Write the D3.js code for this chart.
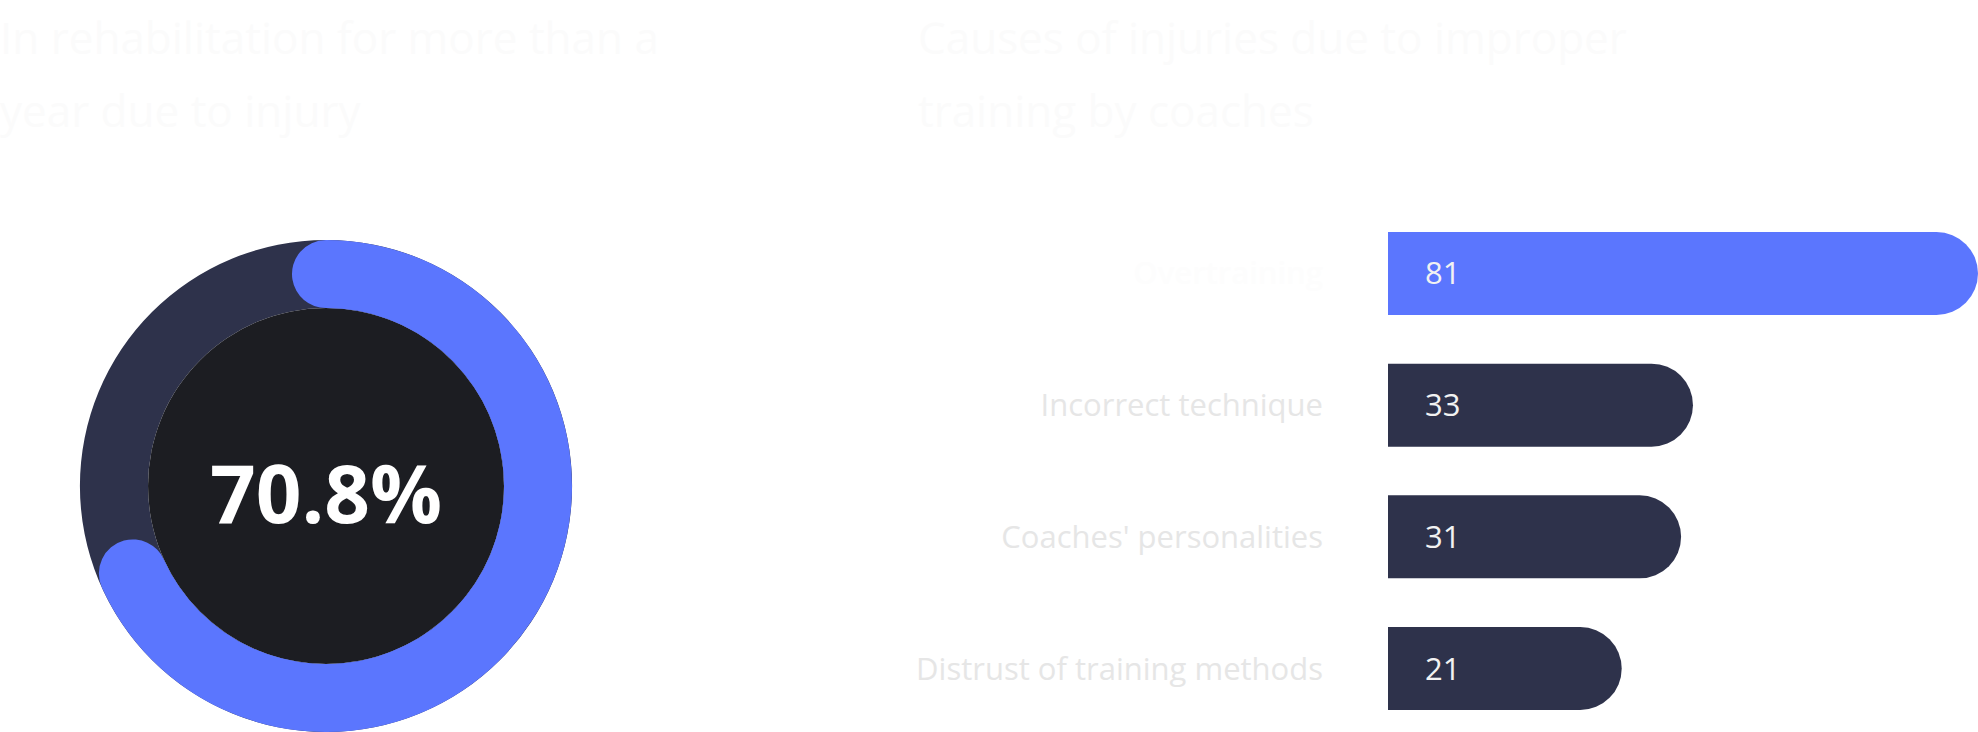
<!DOCTYPE html>
<html>
<head>
<meta charset="utf-8">
<script src="https://cdn.jsdelivr.net/npm/d3@7"></script>
<style>
  html, body { margin: 0; padding: 0; background: #ffffff; }
  svg { display: block; font-family: "Open Sans", "Noto Sans", sans-serif; }
</style>
</head>
<body>
<svg id="chart"></svg>
<script>
// Titles (two lines each)
const leftTitle = ["In rehabilitation for more than a", "year due to injury"];
const rightTitle = ["Causes of injuries due to improper", "training by coaches"];

// Donut value (percent)
const donutValue = 70.8;

// Bar chart data
const categories = ["Overtraining", "Incorrect technique", "Coaches' personalities", "Distrust of training methods"];
const values = [81, 33, 31, 21];

const width = 1978;
const height = 732;
const blue = "#5b76fe";
const navy = "#2e324b";
const ink = "#1c1d22";

const svg = d3.select("#chart")
  .attr("width", width)
  .attr("height", height);

// titles - nearly white on the white page, like the original
function drawTitle(lines, x) {
  const t = svg.append("text")
    .attr("x", x)
    .attr("fill", "#fbfbfb")
    .attr("font-size", 44);
  lines.forEach((line, i) => {
    t.append("tspan")
      .attr("x", x)
      .attr("y", 54 + i * 73)
      .text(line);
  });
}
drawTitle(leftTitle, 0);
drawTitle(rightTitle, 918);

// ---- donut ----
const cx = 326, cy = 486;
const rOuter = 246, rInner = 178;
const capR = (rOuter - rInner) / 2;
const capAngle = Math.asin(capR / ((rOuter + rInner) / 2));

const g = svg.append("g").attr("transform", `translate(${cx},${cy})`);

const ring = d3.arc().innerRadius(rInner).outerRadius(rOuter);

// background track
g.append("path")
  .attr("d", ring({ startAngle: 0, endAngle: 2 * Math.PI }))
  .attr("fill", navy);

g.append("circle")
  .attr("r", rInner)
  .attr("fill", ink);

const angle = d3.scaleLinear().domain([0, 100]).range([0, 2 * Math.PI]);

// value arc, round cap centred on 12 o'clock
g.append("path")
  .attr("d", ring.cornerRadius(capR)({ startAngle: -capAngle, endAngle: angle(donutValue) }))
  .attr("fill", blue);

g.append("text")
  .attr("text-anchor", "middle")
  .attr("y", 37)
  .attr("fill", "#ffffff")
  .attr("font-size", 80)
  .attr("font-weight", 700)
  .text(d3.format(".1f")(donutValue) + "%");

// ---- bars ----
const barLeft = 1388;
const y = d3.scaleBand()
  .domain(categories)
  .range([232, 710])
  .paddingInner(0.37)
  .paddingOuter(0);

const x = d3.scaleLinear()
  .domain([0, d3.max(values)])
  .range([109, width - barLeft]);

const bh = y.bandwidth();
const r = bh / 2;

function barPath(w) {
  const p = d3.path();
  p.moveTo(0, 0);
  p.lineTo(w - r, 0);
  p.arc(w - r, r, r, -Math.PI / 2, Math.PI / 2);
  p.lineTo(0, bh);
  p.closePath();
  return p.toString();
}

const rows = svg.append("g")
  .attr("transform", `translate(${barLeft},0)`)
  .selectAll("g")
  .data(categories.map((c, i) => ({ c, v: values[i], i })))
  .join("g")
  .attr("transform", d => `translate(0,${y(d.c)})`);

rows.append("path")
  .attr("d", d => barPath(x(d.v)))
  .attr("fill", d => d.i === 0 ? blue : navy);

rows.append("text")
  .attr("x", 37)
  .attr("y", bh / 2 + 11)
  .attr("fill", "#f2f2f2")
  .attr("font-size", 31)
  .text(d => d.v);

rows.append("text")
  .attr("x", -65)
  .attr("y", bh / 2 + 11)
  .attr("text-anchor", "end")
  .attr("fill", d => d.i === 0 ? "#fdfdfd" : "#e6e6e6")
  .attr("font-weight", d => d.i === 0 ? 600 : 400)
  .attr("font-size", 31)
  .text(d => d.c);
</script>
</body>
</html>
